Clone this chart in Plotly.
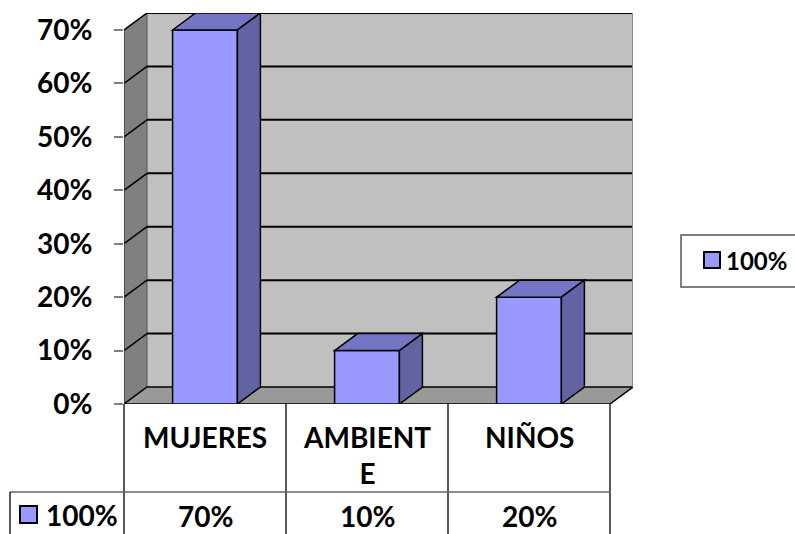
import plotly.graph_objects as go

# ---- data ----
categories = ["MUJERES", "AMBIENTE", "NIÑOS"]
values = [0.70, 0.10, 0.20]
value_labels = ["70%", "10%", "20%"]
series_name = "100%"
y_ticks = [0.0, 0.1, 0.2, 0.3, 0.4, 0.5, 0.6, 0.7]
y_tick_labels = ["0%", "10%", "20%", "30%", "40%", "50%", "60%", "70%"]

# ---- styling ----
W, H = 795, 534
L, R, T, B = 124, 162, 13, 130           # plot-area margins (px)
FRONT = "#9999FF"
SIDE = "#6363A4"
TOP = "#7575C6"
BACK_WALL = "#C0C0C0"
LEFT_WALL = "#808080"
FLOOR = "#999999"
FONT = dict(family="Lato", size=28, color="black", weight="bold")
LEG_FONT = dict(family="Lato", size=24, color="black", weight="bold")

n = len(categories)
xs = list(range(n))
bar_w = 0.4
y_top = max(y_ticks)
plot_w = W - L - R
plot_h = H - T - B
cat_px = 162.0                       # pixels per category on the front plane
dx = 23 / cat_px                     # depth offset in x data units
dy = 17 / (plot_h - 17) * y_top      # depth offset in y data units
x0, x1 = -0.5, n - 0.5


def px(xp):
    return (xp - L) / plot_w


def py(yp):
    return (H - B - yp) / plot_h


def poly(pts):
    return "M " + " L ".join(f"{a},{b}" for a, b in pts) + " Z"


shapes = []
# back wall, left wall, floor
shapes.append(dict(type="rect", xref="x", yref="y", layer="below",
                   x0=x0 + dx, x1=x1 + dx, y0=dy, y1=y_top + dy,
                   fillcolor=BACK_WALL, line=dict(width=0)))
shapes.append(dict(type="path", xref="x", yref="y", layer="below",
                   path=poly([(x0, 0), (x0, y_top), (x0 + dx, y_top + dy), (x0 + dx, dy)]),
                   fillcolor=LEFT_WALL, line=dict(color="#555555", width=1)))
shapes.append(dict(type="path", xref="x", yref="y", layer="below",
                   path=poly([(x0, 0), (x0 + dx, dy), (x1 + dx, dy), (x1, 0)]),
                   fillcolor=FLOOR, line=dict(color="black", width=1.5)))
# gridlines on back wall and left wall
for v in y_ticks[1:]:
    shapes.append(dict(type="line", xref="x", yref="y", layer="below",
                       x0=x0 + dx, x1=x1 + dx, y0=v + dy, y1=v + dy,
                       line=dict(color="black", width=2)))
    shapes.append(dict(type="line", xref="x", yref="y", layer="below",
                       x0=x0, x1=x0 + dx, y0=v, y1=v + dy,
                       line=dict(color="black", width=1.5)))
# back wall right edge
shapes.append(dict(type="line", xref="x", yref="y", layer="below",
                   x0=x1 + dx, x1=x1 + dx, y0=dy, y1=y_top + dy,
                   line=dict(color="#8a8a8a", width=2)))
# front edge of the left wall
shapes.append(dict(type="line", xref="x", yref="y", layer="below",
                   x0=x0, x1=x0, y0=0, y1=y_top,
                   line=dict(color="#333333", width=1)))

# bar tops and sides
for x, v in zip(xs, values):
    a, b = x - bar_w / 2, x + bar_w / 2
    shapes.append(dict(type="path", xref="x", yref="y",
                       path=poly([(a, v), (a + dx, v + dy), (b + dx, v + dy), (b, v)]),
                       fillcolor=TOP, line=dict(color="black", width=1.5)))
    shapes.append(dict(type="path", xref="x", yref="y",
                       path=poly([(b, 0), (b, v), (b + dx, v + dy), (b + dx, dy)]),
                       fillcolor=SIDE, line=dict(color="black", width=1.5)))

# data table under the chart
col_edges = [L + i * cat_px for i in range(n + 1)]
for xe in col_edges:
    shapes.append(dict(type="line", xref="paper", yref="paper",
                       x0=px(xe), x1=px(xe), y0=py(H - B), y1=py(H + 5),
                       line=dict(color="black", width=1.3)))
shapes.append(dict(type="line", xref="paper", yref="paper",
                   x0=px(10), x1=px(col_edges[-1]), y0=py(492), y1=py(492),
                   line=dict(color="#666666", width=1.5)))
shapes.append(dict(type="line", xref="paper", yref="paper",
                   x0=px(10), x1=px(10), y0=py(492), y1=py(H + 5),
                   line=dict(color="black", width=1.3)))
# table series key
shapes.append(dict(type="rect", xref="paper", yref="paper",
                   x0=px(20), x1=px(37), y0=py(506), y1=py(523),
                   fillcolor=FRONT, line=dict(color="black", width=2)))

# legend box on the right
shapes.append(dict(type="rect", xref="paper", yref="paper",
                   x0=px(681), x1=px(W + 10), y0=py(235), y1=py(287),
                   fillcolor="white", line=dict(color="#555555", width=1.5)))
shapes.append(dict(type="rect", xref="paper", yref="paper",
                   x0=px(704), x1=px(720), y0=py(252), y1=py(268),
                   fillcolor=FRONT, line=dict(color="black", width=2)))


def wrap(label, width=7):
    return "<br>".join(label[i:i + width] for i in range(0, len(label), width))


annotations = []
for i, (c, vl) in enumerate(zip(categories, value_labels)):
    cx = px((col_edges[i] + col_edges[i + 1]) / 2)
    annotations.append(dict(xref="paper", yref="paper", x=cx, y=py(418),
                            xanchor="center", yanchor="top", text=wrap(c),
                            showarrow=False, font=FONT, align="center"))
    annotations.append(dict(xref="paper", yref="paper", x=cx, y=py(516),
                            xanchor="center", yanchor="middle", text=vl,
                            showarrow=False, font=FONT))
annotations.append(dict(xref="paper", yref="paper", x=px(44), y=py(515),
                        xanchor="left", yanchor="middle", text=series_name,
                        showarrow=False, font=FONT))
annotations.append(dict(xref="paper", yref="paper", x=px(724), y=py(260),
                        xanchor="left", yanchor="middle", text=series_name,
                        showarrow=False, font=LEG_FONT))

fig = go.Figure(go.Bar(
    x=xs, y=values, width=bar_w, name=series_name,
    marker=dict(color=FRONT, line=dict(color="black", width=1.5)),
    showlegend=False, hovertemplate="%{y:.0%}<extra></extra>",
))

fig.update_layout(
    width=W, height=H, autosize=False,
    margin=dict(l=L, r=R, t=T, b=B, pad=0),
    paper_bgcolor="white", plot_bgcolor="rgba(0,0,0,0)",
    shapes=shapes, annotations=annotations, showlegend=False,
    xaxis=dict(range=[x0, x1 + dx], showgrid=False, zeroline=False,
               showticklabels=False, ticks="", showline=False, fixedrange=True),
    yaxis=dict(range=[0, y_top + dy], tickvals=y_ticks, ticktext=y_tick_labels,
               ticks="outside", ticklen=9, tickwidth=1.5, tickcolor="#808080",
               ticklabelstandoff=16, tickfont=FONT, showgrid=False,
               zeroline=False, showline=False, fixedrange=True),
)

fig.write_html("out.html")
